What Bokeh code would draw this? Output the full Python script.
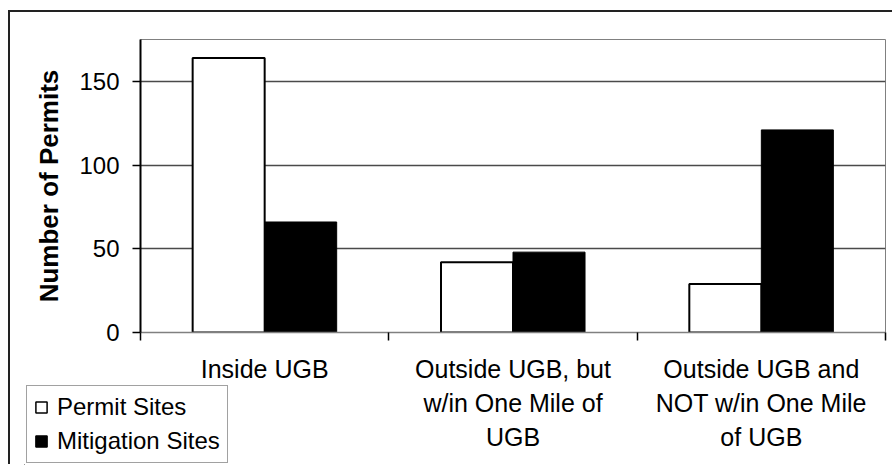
from bokeh.plotting import figure
from bokeh.layouts import column
from bokeh.models import (Range1d, FixedTicker, Legend, LegendItem, ColumnDataSource)
from bokeh.embed import file_html
from bokeh.resources import INLINE

# ---- data ----
categories = ["Inside UGB",
              "Outside UGB, but\nw/in One Mile of\nUGB",
              "Outside UGB and\nNOT w/in One Mile\nof UGB"]
permit_sites = [164, 42, 29]
mitigation_sites = [66, 48, 121]
y_ticks = [0, 50, 100, 150]
y_max = 175
series_names = ["Permit Sites", "Mitigation Sites"]

n = len(categories)
centers = [i + 0.5 for i in range(n)]
boundaries = [i for i in range(n + 1)]
bar_w = 0.29

src = ColumnDataSource(dict(
    xp=[c - bar_w / 2 for c in centers],
    xm=[c + bar_w / 2 for c in centers],
    permit=permit_sites,
    mitig=mitigation_sites,
))

FONT = "Liberation Sans"
permit_style = dict(fill_color="white", line_color="black")
mitig_style = dict(fill_color="black", line_color="black")

p = figure(width=892, height=464, output_backend="svg", toolbar_location=None,
           x_range=Range1d(0, n), y_range=Range1d(0, y_max),
           frame_width=745, frame_height=293,
           min_border_left=140, min_border_right=7,
           min_border_top=39, min_border_bottom=132)
p.background_fill_color = "white"
p.border_fill_color = None
p.outline_line_color = "#808080"
p.outline_line_width = 1
# outer chart frame of the original figure (cropped at right / bottom)
p.styles = {
    "background": "linear-gradient(#222,#222) 8px 10px / 100% 2px no-repeat, "
                  "linear-gradient(#222,#222) 8px 10px / 2px 100% no-repeat, white"
}

r1 = p.vbar(x="xp", width=bar_w, top="permit", bottom=0, source=src,
            line_width=2, **permit_style)
r2 = p.vbar(x="xm", width=bar_w, top="mitig", bottom=0, source=src,
            line_width=1, **mitig_style)

# grid
p.xgrid.visible = False
p.ygrid.ticker = FixedTicker(ticks=y_ticks)
p.ygrid.grid_line_color = "#4a4a4a"
p.ygrid.grid_line_width = 1.5
p.ygrid.level = "underlay"

# y axis
ya = p.yaxis[0]
ya.ticker = FixedTicker(ticks=y_ticks)
ya.axis_label = "Number of Permits"
ya.axis_label_text_font = FONT
ya.axis_label_text_font_style = "bold"
ya.axis_label_text_font_size = "26px"
ya.axis_label_text_color = "black"
ya.axis_label_standoff = 12
ya.major_label_text_font = FONT
ya.major_label_text_font_size = "24px"
ya.major_label_text_color = "black"
ya.major_label_standoff = 13
ya.major_tick_out = 8
ya.major_tick_in = 0
ya.minor_tick_out = 0
ya.minor_tick_in = 0
ya.axis_line_color = "black"
ya.axis_line_width = 2
ya.major_tick_line_color = "black"
ya.major_tick_line_width = 1.5

# x axis
xa = p.xaxis[0]
xa.ticker = FixedTicker(ticks=centers, minor_ticks=boundaries)
xa.major_label_overrides = {c: lab for c, lab in zip(centers, categories)}
xa.major_label_text_font = FONT
xa.major_label_text_font_size = "25px"
xa.major_label_text_color = "black"
xa.major_label_text_line_height = 1.22
xa.major_label_standoff = 14
xa.major_tick_out = 0
xa.major_tick_in = 0
xa.minor_tick_out = 8
xa.minor_tick_in = 0
xa.minor_tick_line_color = "black"
xa.minor_tick_line_width = 1.5
xa.axis_line_color = "#808080"
xa.axis_line_width = 1.5

# ---- legend: a transparent figure laid over the bottom-left corner ----
# (the column aligns its frame with the main plot's frame: 140 px left border)
# its ranges keep the series' own bars out of view; only the legend shows
lg = figure(width=360, height=80, output_backend="svg", toolbar_location=None,
            x_axis_type=None, y_axis_type=None,
            x_range=Range1d(100, 101), y_range=Range1d(1000, 1001),
            min_border=0, min_border_left=0, min_border_right=0,
            min_border_top=0, min_border_bottom=0)
lg.grid.visible = False
lg.outline_line_color = None
lg.background_fill_color = None
lg.border_fill_color = None
lr1 = lg.vbar(x="xp", width=bar_w, top="permit", bottom=0, source=src,
              line_width=1.5, **permit_style)
lr2 = lg.vbar(x="xm", width=bar_w, top="mitig", bottom=0, source=src,
              line_width=1.5, **mitig_style)
legend = Legend(items=[LegendItem(label=series_names[0], renderers=[lr1]),
                       LegendItem(label=series_names[1], renderers=[lr2])],
                location=(2, 2))
legend.label_text_font = FONT
legend.label_text_font_size = "24px"
legend.label_text_color = "black"
legend.glyph_width = 14
legend.glyph_height = 14
legend.label_standoff = 9
legend.label_height = 28
legend.spacing = 6
legend.padding = 7
legend.margin = 0
legend.border_line_color = "#444444"
legend.border_line_width = 1.5
legend.background_fill_color = "white"
legend.background_fill_alpha = 1
lg.add_layout(legend, "center")
lg.margin = (-79, 0, 0, -116)

layout = column(p, lg, spacing=0)
open("out.html", "w").write(file_html(layout, INLINE))
